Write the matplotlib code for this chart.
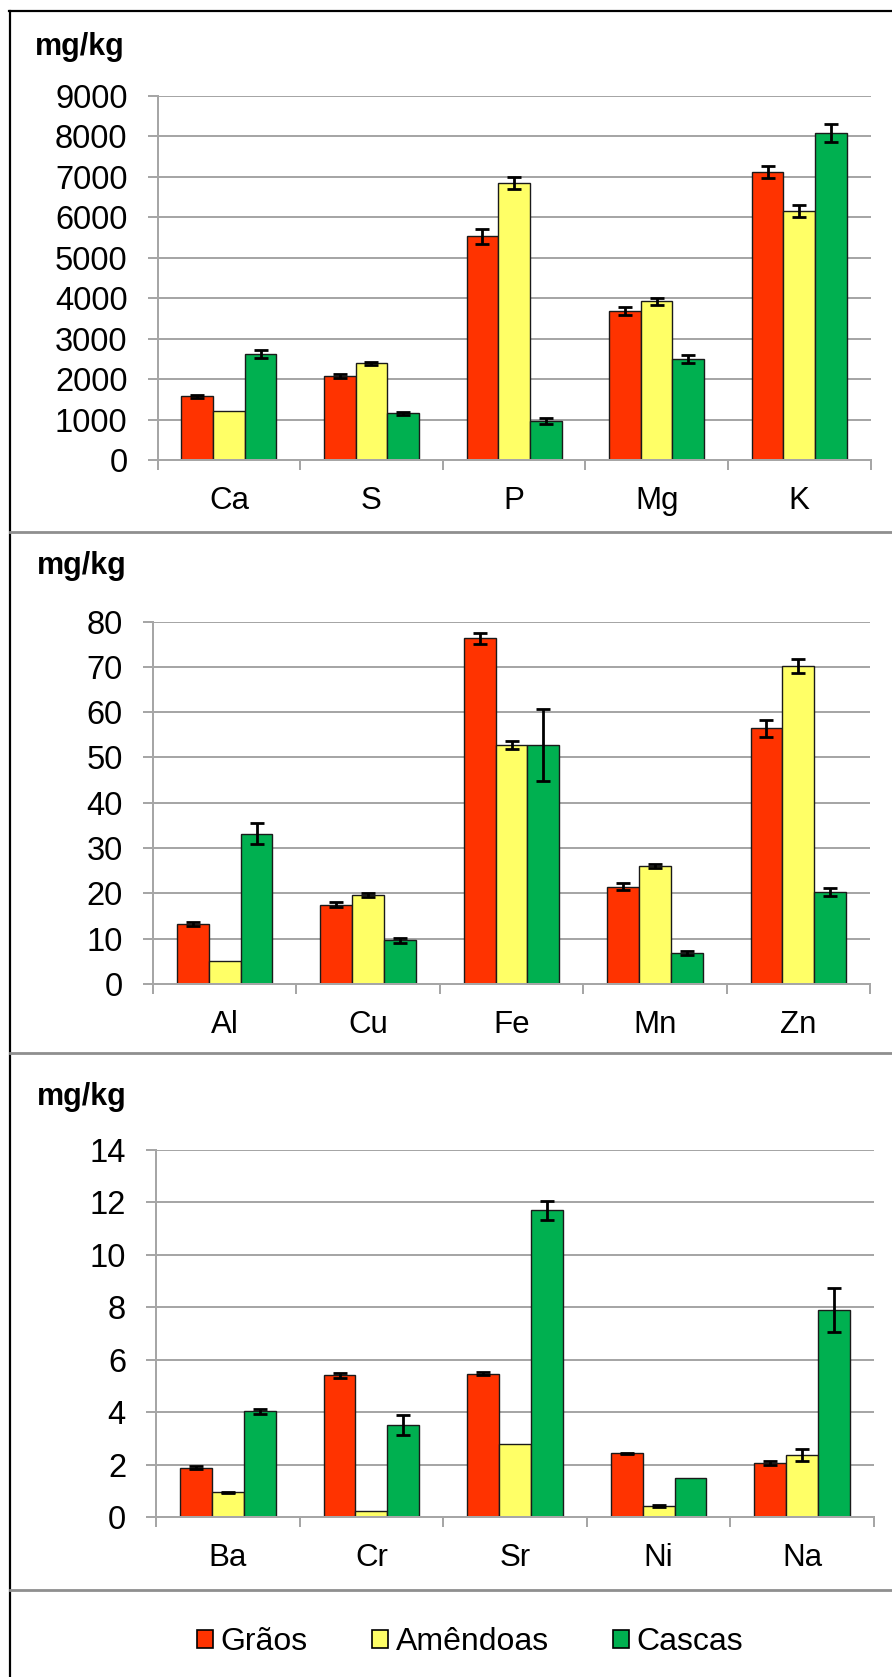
import matplotlib
matplotlib.use("Agg")
import matplotlib.pyplot as plt
import numpy as np
from matplotlib.patches import Patch
from matplotlib.lines import Line2D

plt.rcParams['font.family'] = ['Liberation Sans', 'DejaVu Sans']

# ---------------- data ----------------
series_names = ['Grãos', 'Amêndoas', 'Cascas']
series_colors = ['#FF3300', '#FFFF66', '#00B050']

top_cats = ['Ca', 'S', 'P', 'Mg', 'K']
top_graos = [1570, 2075, 5530, 3690, 7110]
top_graos_err = [40, 50, 190, 100, 145]
top_amend = [1200, 2390, 6845, 3920, 6150]
top_amend_err = [0, 40, 140, 90, 140]
top_cascas = [2620, 1150, 970, 2500, 8080]
top_cascas_err = [100, 40, 80, 100, 220]
top_ticks = list(range(0, 9001, 1000))

mid_cats = ['Al', 'Cu', 'Fe', 'Mn', 'Zn']
mid_graos = [13.3, 17.5, 76.3, 21.5, 56.4]
mid_graos_err = [0.4, 0.5, 1.2, 0.7, 1.9]
mid_amend = [5.1, 19.6, 52.7, 26.1, 70.2]
mid_amend_err = [0, 0.4, 0.9, 0.4, 1.5]
mid_cascas = [33.2, 9.6, 52.7, 6.9, 20.3]
mid_cascas_err = [2.4, 0.5, 7.9, 0.4, 0.8]
mid_ticks = list(range(0, 81, 10))

bot_cats = ['Ba', 'Cr', 'Sr', 'Ni', 'Na']
bot_graos = [1.88, 5.40, 5.47, 2.43, 2.07]
bot_graos_err = [0.05, 0.08, 0.06, 0.03, 0.08]
bot_amend = [0.94, 0.23, 2.79, 0.41, 2.37]
bot_amend_err = [0.03, 0, 0, 0.04, 0.22]
bot_cascas = [4.03, 3.50, 11.70, 1.48, 7.90]
bot_cascas_err = [0.10, 0.39, 0.37, 0, 0.85]
bot_ticks = list(range(0, 15, 2))

unit_label = 'mg/kg'

# ---------------- layout ----------------
W, H = 892, 1677
fig = plt.figure(figsize=(W / 100, H / 100), dpi=100)
fig.patch.set_facecolor('white')

GRID = '#A6A6A6'
PT = 72 / 100  # points per pixel


def px_axes(l, t, r, b):
    return fig.add_axes([l / W, 1 - b / H, (r - l) / W, (b - t) / H])


def draw_panel(ax, cats, vals, errs, ticks):
    n = len(cats)
    x = np.arange(n)
    w = 0.222
    offsets = [-w, 0, w]
    ax.set_axisbelow(True)
    for v, e, c, off in zip(vals, errs, series_colors, offsets):
        ax.bar(x + off, v, w, color=c, edgecolor='#1a1a1a', linewidth=1.0, zorder=2)
        v = np.asarray(v, float)
        e = np.asarray(e, float)
        m = e > 0
        ax.errorbar((x + off)[m], v[m], yerr=e[m], fmt='none', ecolor='black',
                    elinewidth=2.0, capsize=5.0, capthick=2.0, zorder=3)
    ax.set_xlim(-0.5, n - 0.5)
    ax.set_ylim(ticks[0], ticks[-1])
    ax.set_yticks(ticks)
    ax.set_yticklabels([str(t) for t in ticks])
    ax.yaxis.grid(True, color=GRID, linewidth=2 * PT)
    ax.xaxis.grid(False)
    for s in ['top', 'right']:
        ax.spines[s].set_visible(False)
    for s in ['left', 'bottom']:
        ax.spines[s].set_color(GRID)
        ax.spines[s].set_linewidth(2 * PT)
    ax.tick_params(axis='y', length=10 * PT, width=2 * PT, color=GRID,
                   pad=20 * PT, labelsize=23.5, labelcolor='black')
    ax.set_xticks(np.arange(-0.5, n, 1.0))
    ax.set_xticklabels([])
    ax.set_xticks(x, minor=True)
    ax.set_xticklabels(cats, minor=True)
    ax.tick_params(axis='x', which='major', length=10 * PT, width=2 * PT, color=GRID)
    ax.tick_params(axis='x', which='minor', length=0, pad=26 * PT,
                   labelsize=22.5, labelcolor='black')


ax1 = px_axes(157.6, 95.8, 870.5, 460)
draw_panel(ax1, top_cats, [top_graos, top_amend, top_cascas],
           [top_graos_err, top_amend_err, top_cascas_err], top_ticks)

ax2 = px_axes(153, 621.5, 870, 984)
draw_panel(ax2, mid_cats, [mid_graos, mid_amend, mid_cascas],
           [mid_graos_err, mid_amend_err, mid_cascas_err], mid_ticks)

ax3 = px_axes(156, 1150, 874, 1517)
draw_panel(ax3, bot_cats, [bot_graos, bot_amend, bot_cascas],
           [bot_graos_err, bot_amend_err, bot_cascas_err], bot_ticks)

# unit labels
for (xp, yp) in [(35, 47), (37, 566), (37, 1097)]:
    fig.text(xp / W, 1 - yp / H, unit_label, fontsize=22, fontweight='bold',
             ha='left', va='center')

# frame lines and separators
fig.add_artist(Line2D([9.5 / W, 9.5 / W], [0, 1 - 11 / H], color='black',
                      linewidth=2.2 * PT, transform=fig.transFigure))
fig.add_artist(Line2D([9 / W, 1], [1 - 11 / H, 1 - 11 / H], color='black',
                      linewidth=2.2 * PT, transform=fig.transFigure))
for yp in [532, 1053, 1590]:
    fig.add_artist(Line2D([10 / W, 1], [1 - yp / H, 1 - yp / H], color='#8f8f8f',
                          linewidth=2.8 * PT, transform=fig.transFigure))

# legend
handles = [Patch(facecolor=c, edgecolor='black', linewidth=1.2, label=nm)
           for c, nm in zip(series_colors, series_names)]
fig.legend(handles=handles, loc='center', ncol=3,
           bbox_to_anchor=(470 / W, 1 - 1642 / H), frameon=False,
           fontsize=23, handlelength=0.5, handleheight=0.5,
           handletextpad=0.25, columnspacing=2.0, borderaxespad=0)

fig.savefig('out.png', dpi=100, facecolor='white')
